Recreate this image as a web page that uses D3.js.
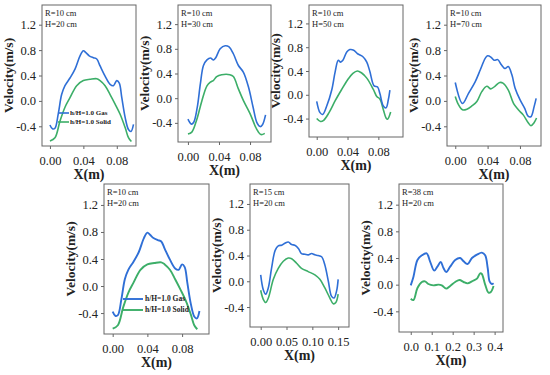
<!DOCTYPE html>
<html>
<head>
<meta charset="utf-8">
<script src="https://cdn.jsdelivr.net/npm/d3@7"></script>
<style>
  body { margin: 0; background: #fff; }
  text { font-family: "Times New Roman", "Liberation Serif", serif; }
</style>
</head>
<body>
<div id="chart"></div>
<script>
// Velocity profiles, [x (m), velocity (m/s)]
const gasR10H20 = [[0,-0.38],[0.003,-0.44],[0.006,-0.43],[0.010,-0.20],[0.014,0.10],[0.018,0.24],[0.024,0.36],[0.030,0.50],[0.036,0.71],[0.040,0.79],[0.043,0.76],[0.047,0.71],[0.052,0.68],[0.056,0.66],[0.060,0.55],[0.066,0.39],[0.072,0.26],[0.076,0.24],[0.080,0.32],[0.083,0.28],[0.086,0.05],[0.090,-0.26],[0.094,-0.45],[0.097,-0.48],[0.100,-0.37]];
const solidR10H20 = [[0,-0.63],[0.006,-0.58],[0.012,-0.32],[0.018,-0.10],[0.024,0.05],[0.032,0.24],[0.040,0.32],[0.048,0.34],[0.056,0.35],[0.060,0.32],[0.066,0.24],[0.072,0.10],[0.078,-0.05],[0.084,-0.21],[0.090,-0.42],[0.094,-0.58],[0.0975,-0.64]];

const gasR10H30 = [[0,-0.34],[0.0045,-0.42],[0.0075,-0.39],[0.012,-0.15],[0.016,0.23],[0.020,0.53],[0.0245,0.62],[0.029,0.65],[0.033,0.62],[0.036,0.66],[0.0415,0.80],[0.048,0.85],[0.053,0.83],[0.0585,0.72],[0.065,0.53],[0.0715,0.42],[0.078,0.18],[0.084,-0.15],[0.089,-0.40],[0.093,-0.46],[0.096,-0.43],[0.100,-0.27]];
const solidR10H30 = [[0,-0.58],[0.005,-0.55],[0.0115,-0.34],[0.018,-0.04],[0.0245,0.20],[0.029,0.26],[0.033,0.29],[0.037,0.35],[0.0435,0.38],[0.054,0.38],[0.0585,0.35],[0.065,0.15],[0.0715,-0.04],[0.080,-0.25],[0.0885,-0.50],[0.094,-0.59],[0.099,-0.57]];

const gasR10H50 = [[0,-0.11],[0.0043,-0.30],[0.0078,-0.33],[0.013,-0.19],[0.0195,0.08],[0.024,0.39],[0.028,0.58],[0.031,0.55],[0.034,0.58],[0.039,0.72],[0.043,0.76],[0.048,0.75],[0.053,0.69],[0.060,0.64],[0.065,0.55],[0.069,0.39],[0.0745,0.15],[0.079,0.13],[0.082,0.02],[0.0865,-0.19],[0.090,-0.22],[0.093,-0.08],[0.095,0.08]];
const solidR10H50 = [[0,-0.40],[0.005,-0.45],[0.009,-0.43],[0.016,-0.30],[0.024,-0.10],[0.032,0.08],[0.040,0.25],[0.047,0.36],[0.0528,0.40],[0.058,0.37],[0.065,0.28],[0.0735,0.09],[0.078,-0.03],[0.082,-0.07],[0.0865,-0.25],[0.090,-0.39],[0.092,-0.41],[0.096,-0.29]];

const gasR10H70 = [[0,0.29],[0.009,-0.04],[0.0164,0.12],[0.0246,0.30],[0.031,0.49],[0.037,0.67],[0.040,0.71],[0.044,0.69],[0.048,0.64],[0.0525,0.65],[0.057,0.57],[0.0615,0.51],[0.0655,0.54],[0.070,0.41],[0.074,0.20],[0.080,0.02],[0.086,-0.12],[0.090,-0.24],[0.0935,-0.25],[0.0975,-0.09],[0.100,0.04]];
const solidR10H70 = [[0,0.07],[0.004,-0.06],[0.009,-0.14],[0.0144,-0.13],[0.0205,-0.08],[0.0267,-0.01],[0.033,0.15],[0.039,0.23],[0.044,0.19],[0.049,0.23],[0.055,0.29],[0.059,0.28],[0.0656,0.17],[0.072,-0.04],[0.078,-0.14],[0.084,-0.22],[0.090,-0.34],[0.0935,-0.39],[0.0976,-0.34],[0.1005,-0.27]];

const gasR15H20 = [[0,0.10],[0.005,-0.13],[0.0097,-0.20],[0.0148,-0.10],[0.021,0.20],[0.028,0.48],[0.034,0.55],[0.0406,0.56],[0.047,0.59],[0.0534,0.61],[0.060,0.57],[0.066,0.56],[0.073,0.51],[0.079,0.43],[0.0856,0.42],[0.092,0.41],[0.0985,0.43],[0.105,0.41],[0.111,0.40],[0.118,0.38],[0.124,0.26],[0.131,0.0],[0.137,-0.23],[0.142,-0.26],[0.147,-0.15],[0.150,0.03]];
const solidR15H20 = [[0,-0.14],[0.005,-0.28],[0.0097,-0.33],[0.0148,-0.26],[0.0245,0.03],[0.034,0.20],[0.0438,0.31],[0.0534,0.36],[0.060,0.35],[0.0695,0.28],[0.079,0.20],[0.092,0.15],[0.105,0.10],[0.1146,0.03],[0.124,-0.10],[0.134,-0.26],[0.1404,-0.35],[0.1455,-0.33],[0.150,-0.20]];

const gasR38H20 = [[0,-0.01],[0.013,0.12],[0.032,0.37],[0.053,0.44],[0.076,0.47],[0.092,0.35],[0.112,0.21],[0.127,0.27],[0.143,0.34],[0.156,0.25],[0.169,0.19],[0.188,0.27],[0.212,0.37],[0.236,0.40],[0.252,0.35],[0.271,0.31],[0.292,0.40],[0.316,0.45],[0.339,0.48],[0.355,0.44],[0.367,0.25],[0.376,0.05],[0.387,0.01],[0.395,0.02]];
const solidR38H20 = [[0,-0.21],[0.013,-0.23],[0.032,-0.05],[0.053,0.04],[0.068,0.05],[0.084,0.01],[0.108,-0.01],[0.132,0.0],[0.148,-0.01],[0.169,-0.06],[0.188,-0.02],[0.212,0.04],[0.233,0.07],[0.252,0.04],[0.271,0.02],[0.292,0.05],[0.316,0.09],[0.331,0.17],[0.339,0.16],[0.355,0.0],[0.371,-0.12],[0.382,-0.11],[0.395,-0.02]];

// tick values
const yTicks = [-0.4, 0.0, 0.4, 0.8, 1.2];
const xTicks10 = [0, 0.04, 0.08];
const xTicks15 = [0, 0.05, 0.10, 0.15];
const xTicks38 = [0, 0.1, 0.2, 0.3, 0.4];
const legendNames = ["h/H=1.0 Gas", "h/H=1.0 Solid"];

const blue = "#2f6fd6", green = "#3cae68";
const width = 550, height = 375;

// panel layout: box = [left, top, right, bottom]
const panels = [
  {r: "R=10 cm", h: "H=20 cm", gas: gasR10H20, solid: solidR10H20, xDom: [-0.0095, 0.103], ticks: xTicks10, dec: 2, box: [42, 5, 136, 146], lw: 1.6,
    legend: {x0: 58, x1: 69, tx: 70, y: 113, dy: 9, size: 7}},
  {r: "R=10 cm", h: "H=30 cm", gas: gasR10H30, solid: solidR10H30, xDom: [-0.0128, 0.107], ticks: xTicks10, dec: 2, box: [178, 5, 271, 142], lw: 1.6},
  {r: "R=10 cm", h: "H=50 cm", gas: gasR10H50, solid: solidR10H50, xDom: [-0.010, 0.112], ticks: xTicks10, dec: 2, box: [309, 5, 403, 137], lw: 1.6},
  {r: "R=10 cm", h: "H=70 cm", gas: gasR10H70, solid: solidR10H70, xDom: [-0.0102, 0.106], ticks: xTicks10, dec: 2, box: [447, 5, 541, 146], lw: 1.6},
  {r: "R=10 cm", h: "H=20 cm", gas: gasR10H20, solid: solidR10H20, xDom: [-0.010, 0.111], ticks: xTicks10, dec: 2, box: [104, 184, 209, 334], lw: 1.9,
    legend: {x0: 123, x1: 143, tx: 145, y: 299, dy: 11, size: 7.5}},
  {r: "R=15 cm", h: "H=20 cm", gas: gasR15H20, solid: solidR15H20, xDom: [-0.0207, 0.171], ticks: xTicks15, dec: 2, box: [250, 184, 349, 327], lw: 1.6},
  {r: "R=38 cm", h: "H=20 cm", gas: gasR38H20, solid: solidR38H20, xDom: [-0.056, 0.44], ticks: xTicks38, dec: 1, box: [399, 184, 503, 332], lw: 1.9}
];

const svg = d3.select("#chart").append("svg")
  .attr("width", width)
  .attr("height", height)
  .style("background", "#fff");

panels.forEach(p => {
  const [l, t, r, b] = p.box;
  const x = d3.scaleLinear().domain(p.xDom).range([l, r]);
  const y = d3.scaleLinear().domain([-0.71, 1.51]).range([b, t]);
  const g = svg.append("g");

  // frame
  g.append("rect")
    .attr("x", l).attr("y", t)
    .attr("width", r - l).attr("height", b - t)
    .attr("fill", "none").attr("stroke", "#666").attr("stroke-width", 1);

  // axes
  const ya = g.append("g").attr("transform", `translate(${l},0)`)
    .call(d3.axisLeft(y).tickValues(yTicks).tickSize(3).tickFormat(d => d.toFixed(1)));
  const xa = g.append("g").attr("transform", `translate(0,${b})`)
    .call(d3.axisBottom(x).tickValues(p.ticks).tickSize(3).tickFormat(d => d.toFixed(p.dec)));
  [ya, xa].forEach(a => {
    a.select(".domain").remove();
    a.selectAll("line").attr("stroke", "#666");
    a.selectAll("text").attr("fill", "#222").style("font-size", "12.5px")
      .style("font-family", '"Times New Roman", "Liberation Serif", serif');
  });
  xa.selectAll("text").attr("dy", "1.0em");

  // axis titles
  g.append("text")
    .attr("transform", `translate(${l - 29},${(t + b) / 2}) rotate(-90)`)
    .attr("text-anchor", "middle")
    .style("font-size", "13.5px").style("font-weight", "bold").attr("fill", "#222")
    .text("Velocity(m/s)");
  g.append("text")
    .attr("x", (l + r) / 2).attr("y", b + 33)
    .attr("text-anchor", "middle")
    .style("font-size", "14px").style("font-weight", "bold").attr("fill", "#222")
    .text("X(m)");

  // case annotation
  g.append("text").attr("x", l + 3).attr("y", t + 11)
    .style("font-size", "8.5px").attr("fill", "#222").text(p.r);
  g.append("text").attr("x", l + 3).attr("y", t + 22)
    .style("font-size", "8.5px").attr("fill", "#222").text(p.h);

  // curves
  const line = d3.line()
    .x(d => x(d[0]))
    .y(d => y(d[1]))
    .curve(d3.curveCatmullRom.alpha(0.5));
  g.append("path").datum(p.solid)
    .attr("d", line).attr("fill", "none")
    .attr("stroke", green).attr("stroke-width", p.lw);
  g.append("path").datum(p.gas)
    .attr("d", line).attr("fill", "none")
    .attr("stroke", blue).attr("stroke-width", p.lw);

  // legend
  if (p.legend) {
    const lg = p.legend;
    [blue, green].forEach((c, i) => {
      g.append("line")
        .attr("x1", lg.x0).attr("x2", lg.x1)
        .attr("y1", lg.y + i * lg.dy).attr("y2", lg.y + i * lg.dy)
        .attr("stroke", c).attr("stroke-width", p.lw);
      g.append("text")
        .attr("x", lg.tx).attr("y", lg.y + i * lg.dy)
        .attr("dy", "0.33em")
        .style("font-size", lg.size + "px").style("font-weight", "bold").attr("fill", "#222")
        .text(legendNames[i]);
    });
  }
});
</script>
</body>
</html>
